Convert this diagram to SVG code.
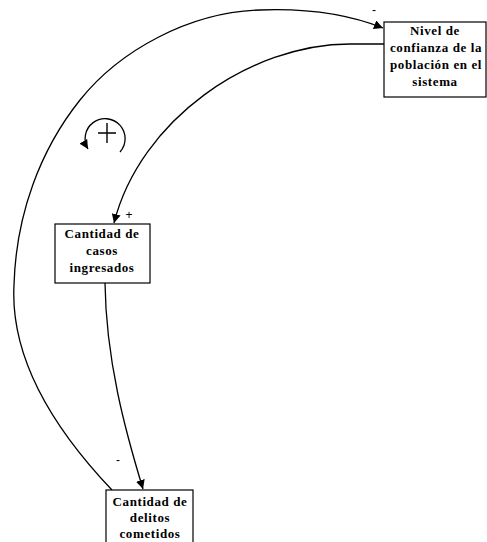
<svg xmlns="http://www.w3.org/2000/svg" width="487" height="542" viewBox="0 0 487 542">
<style>
.box{fill:#fff;stroke:#000;stroke-width:1.2}
.lbl{font-family:"Liberation Serif",serif;font-size:13px;font-weight:bold;fill:#000;text-anchor:middle;letter-spacing:0.6px}
.con{fill:none;stroke:#000;stroke-width:1.3}
.pol{font-family:"Liberation Sans",sans-serif;font-size:12px;fill:#000;text-anchor:middle}
</style>
<defs>
<marker id="ah" viewBox="0 0 10 10" refX="10" refY="5" markerWidth="9" markerHeight="9" markerUnits="userSpaceOnUse" orient="auto">
<path d="M0,0 L10,5 L0,10 z" fill="#000"/>
</marker>
</defs>
<rect width="487" height="542" fill="#fff"/>
<g id="connectors">
<path class="con" d="M112,490 C55,430 10,360 14,285 C16,215 40,150 80,100 C120,50 190,12 260,10 C310,8 350,15 383,28" marker-end="url(#ah)"/>
<path class="con" d="M384,44 L350,44 C250,44 140,120 114,223" marker-end="url(#ah)"/>
<path class="con" d="M105,283 C106,360 125,430 143,489" marker-end="url(#ah)"/>
<text class="pol" x="374" y="14">-</text>
<text class="pol" x="129" y="219">+</text>
<text class="pol" x="118" y="464">-</text>
</g>
<g id="loop">
<path class="con" d="M120,152 A20,20 0 1 0 88,149" marker-end="url(#ah)"/>
<path d="M98,133 L116,133 M107,123 L107,143" stroke="#000" stroke-width="1.4" fill="none"/>
</g>
<g id="nivel">
<rect class="box" x="384" y="22" width="102" height="75"/>
<text class="lbl" x="435" y="35">Nivel de</text>
<text class="lbl" x="436" y="52">confianza de la</text>
<text class="lbl" x="436" y="69">población en el</text>
<text class="lbl" x="435" y="86">sistema</text>
</g>
<g id="casos">
<rect class="box" x="55" y="224" width="95" height="59"/>
<text class="lbl" x="102" y="238">Cantidad de</text>
<text class="lbl" x="102" y="255">casos</text>
<text class="lbl" x="102" y="272">ingresados</text>
</g>
<g id="delitos">
<rect class="box" x="106" y="490" width="87" height="56"/>
<text class="lbl" x="150" y="506">Cantidad de</text>
<text class="lbl" x="150" y="522">delitos</text>
<text class="lbl" x="150" y="538">cometidos</text>
</g>
</svg>
